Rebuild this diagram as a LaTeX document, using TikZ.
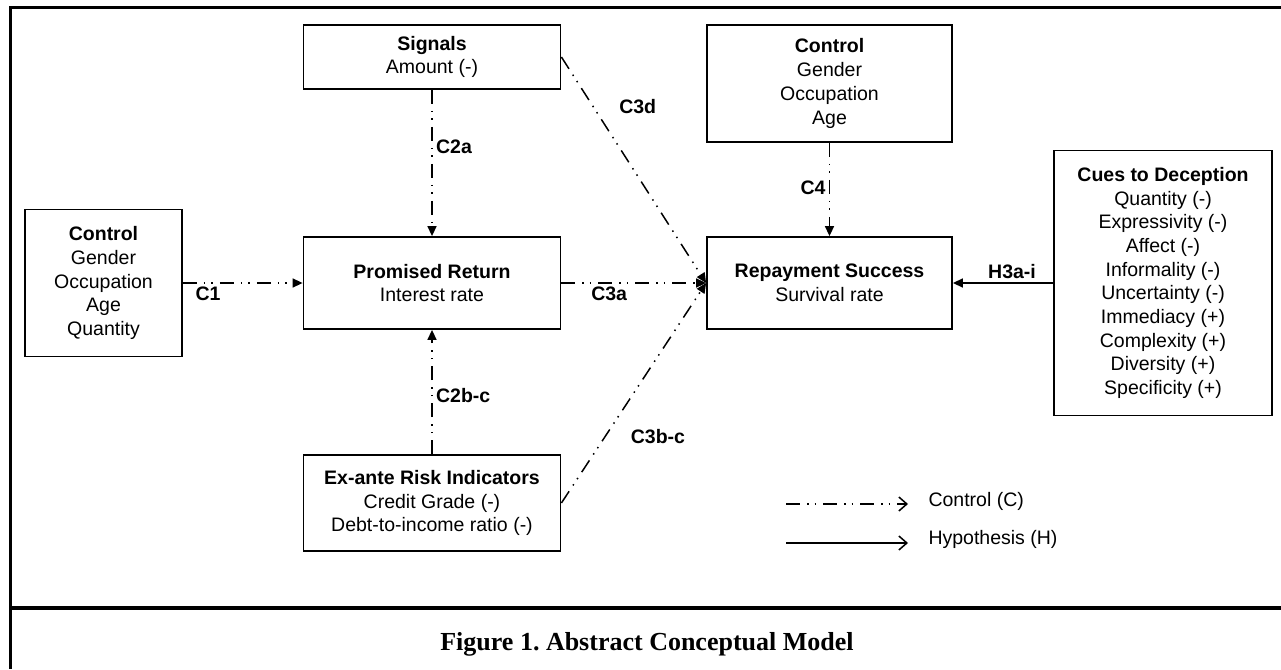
\documentclass[tikz,border=0pt]{standalone}
\usepackage{fontspec}
\setmainfont{Liberation Sans}
\newfontfamily\captionserif{Liberation Serif}
\usepackage{tikz}
\usetikzlibrary{arrows.meta, positioning}
\frenchspacing

\begin{document}
\begin{tikzpicture}[
        x=1pt, y=-1pt,
        node distance=2cm,
        box/.style={rectangle, draw, line width=1.8pt, align=center, inner sep=0pt, minimum width=257pt, font=\fontsize{19.5}{23.7}\selectfont},
        lbl/.style={font=\bfseries\fontsize{19.5}{23.7}\selectfont},
        ctrl/.style={line width=1.5pt, dash pattern=on 14pt off 7pt on 1.5pt off 6pt on 1.5pt off 7pt, -{Triangle[length=10pt, width=9pt]}},
        hyp/.style={line width=1.5pt, -{Triangle[length=10pt, width=9pt]}},
        key/.style={-{Straight Barb[length=8pt, width=14pt]}}
    ]
        \useasboundingbox (0,0) rectangle (1281,669);

        % frame and caption rule
        \draw[line width=3pt] (1281,7.5) -- (10,7.5) -- (10,669);
        \draw[line width=4pt] (10,608) -- (1281,608);

        \node[box, minimum height=92pt] (ret) at (432,283) {\textbf{Promised Return}\\Interest rate};
        \node[box, minimum height=64pt, node distance=226pt, above of=ret] (sig) {\textbf{Signals}\\Amount (-)};
        \node[box, minimum height=96pt, node distance=220pt, below of=ret] (risk) {\textbf{Ex-ante Risk Indicators}\\Credit Grade (-)\\Debt-to-income ratio (-)};
        \node[box, minimum width=157pt, minimum height=147pt, node distance=328.5pt, left of=ret] (ctrlA) {\textbf{Control}\\Gender\\Occupation\\Age\\Quantity};
        \node[box, minimum width=245pt, minimum height=92pt, node distance=397.5pt, right of=ret] (repay) {\textbf{Repayment Success}\\Survival rate};
        \node[box, minimum width=245pt, minimum height=117pt, node distance=199.5pt, above of=repay] (ctrlB) {\textbf{Control}\\Gender\\Occupation\\Age};
        \node[box, minimum width=218pt, minimum height=265pt, node distance=333.5pt, right of=repay] (cues) {\textbf{Cues to Deception}\\Quantity (-)\\Expressivity (-)\\Affect (-)\\Informality (-)\\Uncertainty (-)\\Immediacy (+)\\Complexity (+)\\Diversity (+)\\Specificity (+)};

        \draw[ctrl] (sig) -- (ret) node[lbl, pos=0.39, right] {C2a};
        \draw[ctrl] (risk) -- (ret) node[lbl, pos=0.47, right] {C2b-c};
        \draw[ctrl] (ctrlA) -- (ret) node[lbl, pos=0.21, below] {C1};
        \draw[ctrl] (ret) -- (repay) node[lbl, pos=0.33, below] {C3a};
        \draw[ctrl] (sig.east) -- (repay.west) node[lbl, pos=0.22, right=22pt] {C3d};
        \draw[ctrl] (risk.east) -- (repay.west) node[lbl, pos=0.3, right=22pt] {C3b-c};
        \draw[ctrl] (ctrlB) -- (repay) node[lbl, pos=0.48, left] {C4};
        \draw[hyp] (cues) -- (repay) node[lbl, pos=0.41, above] {H3a-i};

        % legend
        \coordinate (keyC) at (786,504);
        \coordinate (keyCend) at (908,504);
        \coordinate (keyH) at (786,543);
        \coordinate (keyHend) at (908,543);
        \node[anchor=west, font=\fontsize{19.5}{23.7}\selectfont] (keyCtext) at (925,501) {Control (C)};
        \node[anchor=west, font=\fontsize{19.5}{23.7}\selectfont] (keyHtext) at (925,539) {Hypothesis (H)};
        \draw[ctrl, key] (keyC) -- (keyCend);
        \draw[hyp, key] (keyH) -- (keyHend);

        \node[anchor=base, font=\captionserif\bfseries\fontsize{26}{31}\selectfont] (caption) at (647,650) {Figure 1. Abstract Conceptual Model};
    \end{tikzpicture}
\end{document}
